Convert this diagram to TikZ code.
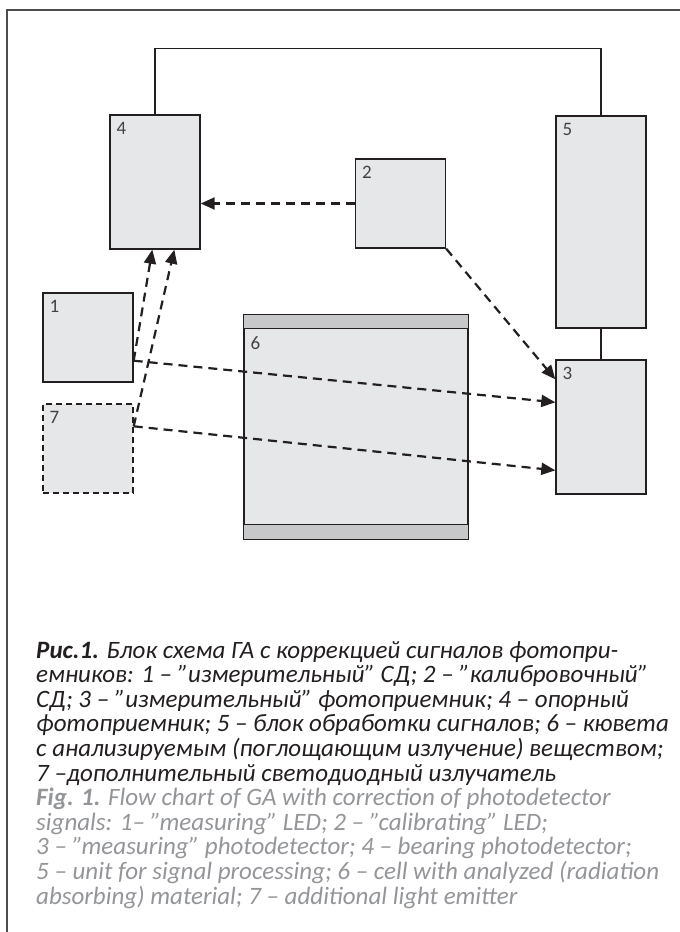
\documentclass[tikz,border=0pt]{standalone}
\usepackage{fontspec}
\setmainfont{Carlito}
\usetikzlibrary{arrows.meta,calc}
\definecolor{boxfill}{HTML}{E6E7E8}
\definecolor{bandfill}{HTML}{C7C8CA}
\definecolor{inkline}{HTML}{231F20}
\definecolor{engray}{HTML}{939598}
\begin{document}
\begin{tikzpicture}[x=1pt, y=-1pt,
  blk/.style={draw=inkline, line width=1.4pt, fill=boxfill, inner sep=0pt, minimum width=90pt},
  num/.style={anchor=north west, inner sep=0pt, xshift=7pt, yshift=-8pt, font=\fontsize{19}{19}\selectfont, text=inkline!85},
  ray/.style={draw=inkline, line width=2.2pt, dash pattern=on 9pt off 6pt, -{Triangle[length=14pt,width=12pt]}},
  wire/.style={draw=inkline, line width=1.4pt}]
\useasboundingbox (0,0) rectangle (680,932);
\draw[draw=inkline!80, line width=1.6pt] (680,10) -- (7,10) -- (7,932);

\node[blk, minimum height=134pt, label={[num]north west:4}] (b4) at (155,182) {};
\node[blk, minimum height=212pt, label={[num]north west:5}] (b5) at (601,222) {};
\node[blk, minimum height=89pt, label={[num]north west:2}] (b2) at (400.5,203.5) {};
\node[blk, minimum height=89pt, label={[num]north west:1}] (b1) at (88,337.5) {};
\node[blk, minimum height=89pt, dash pattern=on 6pt off 4pt, label={[num]north west:7}] (b7) at (88,448.5) {};
\node[blk, minimum height=134pt, label={[num]north west:3}] (b3) at (601,427) {};
\node[blk, minimum width=224pt, minimum height=224pt] (b6) at (356,427) {};
\draw[wire, fill=bandfill] (b6.north west) rectangle ($(b6.north east)+(0,14)$);
\draw[wire, fill=bandfill] (b6.south west) rectangle ($(b6.south east)+(0,-15)$);
\node[num] at ($(b6.north west)+(0,14)$) {6};

\draw[wire] (b4.north) -- ++(0,-66) -| (b5.north);
\draw[wire] (b5.south) -- (b3.north);

\draw[ray] (b2.west) -- (b2.west -| b4.east);
\draw[ray] (b2.south east) -- ($(b3.north west)+(0,20)$);
\draw[ray] ($(b1.south east)+(0,-22)$) -- ($(b3.north west)+(0,43)$);
\draw[ray] ($(b1.south east)+(0,-22)$) -- ($(b4.south west)+(43,0)$);
\draw[ray] ($(b7.north east)+(0,23)$) -- ($(b3.north west)+(0,111)$);
\draw[ray] ($(b7.north east)+(0,23)$) -- ($(b4.south west)+(65,0)$);

\node[anchor=north west, inner sep=0pt, align=left, text=inkline,
  font=\itshape\fontsize{25}{24.6}\selectfont] (cap) at (36,641) {%
\textbf{Рис.1.} Блок схема ГА с коррекцией сигналов фотопри-\\
емников: 1 – "измерительный" СД; 2 – "калибровочный"\\
СД; 3 – "измерительный" фотоприемник; 4 – опорный\\
фотоприемник; 5 – блок обработки сигналов; 6 – кювета\\
с анализируемым (поглощающим излучение) веществом;\\
7 –дополнительный светодиодный излучатель\\
{\color{engray}\textbf{Fig. 1.} Flow chart of GA with correction of photodetector}\\
{\color{engray}signals: 1– "measuring" LED; 2 – "calibrating" LED;}\\
{\color{engray}3 – "measuring" photodetector; 4 – bearing photodetector;}\\
{\color{engray}5 – unit for signal processing; 6 – cell with analyzed (radiation}\\
{\color{engray}absorbing) material; 7 – additional light emitter}};
\end{tikzpicture}
\end{document}
